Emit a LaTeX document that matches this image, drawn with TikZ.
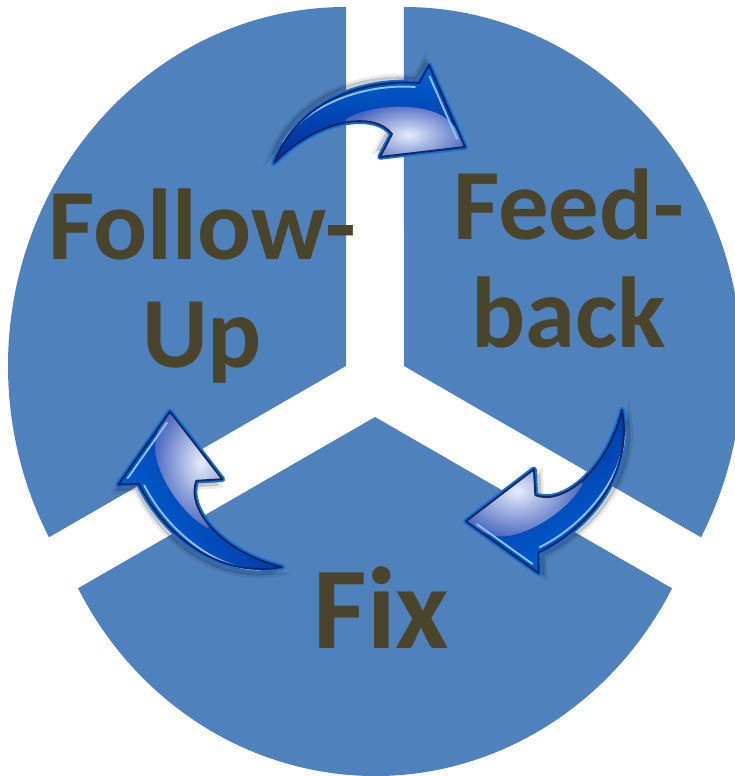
\documentclass[tikz,border=0pt]{standalone}
\usepackage{fontspec}
\setmainfont{Carlito}
\usepackage{tikz}

\definecolor{wedgeblue}{HTML}{4F81BD}
\definecolor{wordbrown}{HTML}{4A452A}
\definecolor{arrowtop}{HTML}{0062D4}
\definecolor{arrowbot}{HTML}{002C96}
\definecolor{arrowrim}{HTML}{0A6FE0}
\definecolor{arrowline}{HTML}{1C2656}
\definecolor{glosslight}{HTML}{E6ECFA}
\definecolor{glossdark}{HTML}{4A68C0}
\definecolor{shine}{HTML}{86C4FF}

% outline of one curved arrow, tail at the origin
\newcommand{\arrowshape}{(0,0) .. controls (20,55) and (80,85) .. (145,80) -- (155,98) -- (191,16) -- (106,6) -- (118,29) .. controls (100,52) and (45,45) .. (0,0) -- cycle}

\tikzset{
  cyclearrow/.pic={
    \begin{scope}[rotate=#1]
      \fill[black, opacity=.16, shift={(-4,6)}] \arrowshape;
      \draw[black, opacity=.08, line width=3pt, shift={(-4,6)}] \arrowshape;
      \draw[arrowrim, line width=3.2pt, line join=round] \arrowshape;
      \shade[top color=arrowtop, bottom color=arrowbot, shading angle=#1] \arrowshape;
      \begin{scope}
        \clip \arrowshape;
        \shade[inner color=glosslight, outer color=glossdark] (72,44) .. controls (100,60) and (150,60) .. (170,46) .. controls (182,37) and (190,25) .. (196,14) -- (196,-4) -- (72,-4) -- cycle;
      \end{scope}
      \draw[shine, line width=1.1pt, line cap=round] (9,20) .. controls (28,54) and (85,80) .. (141,76);
      \draw[shine, line width=1.1pt, line cap=round] (155.6,86.6) -- (183,24.2);
      \draw[arrowline, line width=1.1pt, line join=round] \arrowshape;
    \end{scope}
  }
}

\begin{document}
\begin{tikzpicture}[
    x=0.02cm, y=0.02cm,
    wedge/.style = {fill=wedgeblue},
    word/.style = {text=wordbrown, inner sep=0pt, font=\fontsize{57.4}{61.8}\selectfont\bfseries}
]
\useasboundingbox (0,0) rectangle (734,776);

% three pieces of the pie, pulled apart
\fill[wedge] (346,410) -- ++(0,359) arc[start angle=90, end angle=208.5, x radius=338, y radius=359] -- cycle;
\fill[wedge] (404,410) -- ++(297,-171.3) arc[start angle=-28.5, end angle=90, x radius=338, y radius=359] -- cycle;
\fill[wedge] (375,359) -- ++(-297,-171.3) arc[start angle=208.5, end angle=331.5, x radius=338, y radius=359] -- cycle;

% base anchor sits on the last line
\node[word, align=center, anchor=base] (followup) at (202,408) {Follow-\\Up};
\node[word, align=center, anchor=base] (feedback) at (569,428) {Feed-\\back};
\node[word, font=\fontsize{66.4}{70}\selectfont\bfseries, anchor=base] (fix) at (381.5,127) {Fix};

\pic at (274,613) {cyclearrow=0};
\pic at (622,366) {cyclearrow=210.7};
\pic at (282,209) {cyclearrow=121};

\end{tikzpicture}
\end{document}
